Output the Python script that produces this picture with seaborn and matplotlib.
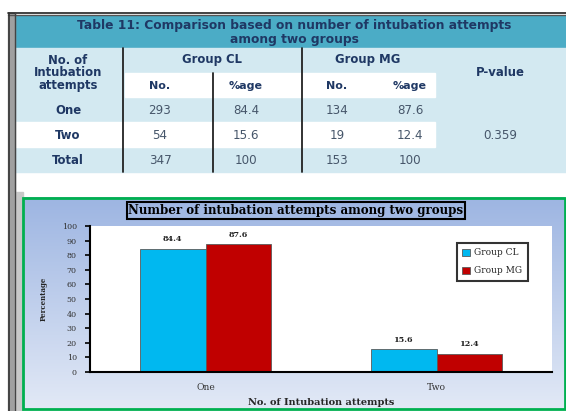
import numpy as np
import pandas as pd
import matplotlib
matplotlib.use("Agg")
import matplotlib.pyplot as plt
import seaborn as sns
from matplotlib.patches import Rectangle

# ---------------- data ----------------
attempts = ["One", "Two"]
groups = ["Group CL", "Group MG"]
pct_cl = [84.4, 15.6]
pct_mg = [87.6, 12.4]

row_labels = ["One", "Two", "Total"]
no_cl = ["293", "54", "347"]
pctage_cl = ["84.4", "15.6", "100"]
no_mg = ["134", "19", "153"]
pctage_mg = ["87.6", "12.4", "100"]
p_value = "0.359"

table_title = "Table 11: Comparison based on number of intubation attempts\namong two groups"
chart_title = "Number of intubation attempts among two groups"
x_label = "No. of Intubation attempts"
y_label = "Percentage"

df = pd.DataFrame({
    "attempts": attempts * 2,
    "group": [groups[0]] * 2 + [groups[1]] * 2,
    "pct": pct_cl + pct_mg,
})

sns.set_theme(style="white")
W, H = 566, 411
fig = plt.figure(figsize=(W / 100, H / 100), dpi=100)
fig.patch.set_facecolor("white")

bg = fig.add_axes([0, 0, 1, 1])
bg.set_xlim(0, W)
bg.set_ylim(H, 0)
bg.axis("off")

NAVY = "#1f3864"
TEAL = "#4bacc6"
LBLUE = "#d3e9f1"
SANS = "DejaVu Sans"
SERIF = "DejaVu Serif"

# ---- table ----
bg.add_patch(Rectangle((15, 16), W - 15, 32, color=TEAL, zorder=1))
bg.add_patch(Rectangle((15, 48), W - 15, 124, color=LBLUE, zorder=1))
bg.add_patch(Rectangle((125, 73), 310, 24, color="white", zorder=2))
bg.add_patch(Rectangle((15, 122), 420, 25, color="white", zorder=2))
# borders
bg.plot([8, W], [13.5, 13.5], color="#222222", lw=1.2, zorder=5)
bg.plot([8, W], [15.5, 15.5], color="#555555", lw=1.0, zorder=5)
bg.add_patch(Rectangle((8, 13), 7, H - 13, color="#a0a0a0", zorder=4))
bg.plot([9, 9], [13, H], color="#333333", lw=1.2, zorder=5)
bg.plot([15, 15], [13, H], color="#444444", lw=1.0, zorder=5)
bg.add_patch(Rectangle((15, 192), 8, H - 192, color="#c8c8c8", zorder=4))
for x, y0 in [(123, 48), (213, 73), (302, 48)]:
    bg.plot([x, x], [y0, 172], color="#222222", lw=1.3, zorder=5)

tkw = dict(family=SANS, color=NAVY, ha="center", va="center", zorder=6)
bg.text(294, 33, table_title, fontsize=8.8, fontweight="bold", linespacing=1.1, **tkw)
bg.text(68, 73, "No. of\nIntubation\nattempts", fontsize=8.4, fontweight="bold", linespacing=0.95, **tkw)
bg.text(212, 60, "Group CL", fontsize=8.4, fontweight="bold", **tkw)
bg.text(368, 60, "Group MG", fontsize=8.4, fontweight="bold", **tkw)
bg.text(500, 73, "P-value", fontsize=8.4, fontweight="bold", **tkw)
for xc, s in [(160, "No."), (246, "%age"), (337, "No."), (410, "%age")]:
    bg.text(xc, 86, s, fontsize=8, fontweight="bold", **tkw)
row_y = [110, 135, 160]
vkw = dict(family=SANS, color="#46566a", ha="center", va="center", fontsize=8.6, zorder=6)
for i, y in enumerate(row_y):
    bg.text(68, y, row_labels[i], fontsize=8.4, fontweight="bold", **tkw)
    bg.text(160, y, no_cl[i], **vkw)
    bg.text(246, y, pctage_cl[i], **vkw)
    bg.text(337, y, no_mg[i], **vkw)
    bg.text(410, y, pctage_mg[i], **vkw)
bg.text(500, 135, p_value, **vkw)

# ---- chart box ----
grad = np.linspace(0, 1, 256).reshape(-1, 1)
top = np.array([0x9d, 0xb5, 0xe2]) / 255
bot = np.array([0xe2, 0xe9, 0xf6]) / 255
img = top[None, None, :] * (1 - grad[:, :, None]) + bot[None, None, :] * grad[:, :, None]
bg.imshow(img, extent=(23, 565, 409, 198), aspect="auto", zorder=3)
bg.add_patch(Rectangle((23, 198), 542, 211, fill=False, ec="#00b050", lw=2, zorder=6))
bg.set_xlim(0, W)
bg.set_ylim(H, 0)

bg.text(296, 210.5, chart_title, family=SERIF, fontweight="bold", fontsize=8.6,
        ha="center", va="center", color="black", zorder=7,
        bbox=dict(boxstyle="square,pad=0.15", fc="none", ec="black", lw=1.5))

# ---- bar chart ----
ax = fig.add_axes([90 / W, 1 - 372 / H, (552 - 90) / W, (372 - 226) / H])
ax.set_facecolor("white")
sns.barplot(data=df, x="attempts", y="pct", hue="group", palette=["#00b8f0", "#c00000"],
            width=0.57, ax=ax, edgecolor="#5a5a5a", linewidth=0.6, saturation=1)
for c in ax.containers:
    ax.bar_label(c, fmt="%.1f", fontsize=5.8, fontweight="bold", family=SERIF,
                 padding=4, color="#222222")
ax.set_ylim(0, 100)
ax.set_yticks(range(0, 101, 10))
ax.set_xlim(-0.5, 1.5)
for s in ["top", "right"]:
    ax.spines[s].set_visible(False)
for s in ["left", "bottom"]:
    ax.spines[s].set_color("black")
    ax.spines[s].set_linewidth(1.5)
ax.tick_params(axis="y", length=3.5, width=1.2, direction="out", color="black", pad=6,
               labelsize=5.8, labelcolor="#333333", left=True)
ax.tick_params(axis="x", length=0, pad=8, labelsize=6.6, labelcolor="#333333")
for lab in ax.get_yticklabels() + ax.get_xticklabels():
    lab.set_family(SERIF)
ax.set_xlabel(x_label, family=SERIF, fontweight="bold", fontsize=7, labelpad=4)
ax.set_ylabel(y_label, family=SERIF, fontweight="bold", fontsize=5, labelpad=10)

leg = ax.legend(loc="upper right", bbox_to_anchor=(0.957, 0.915), frameon=True, fancybox=False,
                edgecolor="black", handlelength=0.8, handleheight=0.8,
                labelspacing=1.0, borderpad=0.6, handletextpad=0.5,
                prop={"family": SERIF, "size": 6.5})
leg.get_frame().set_linewidth(1.5)

fig.savefig("out.png", dpi=100)
